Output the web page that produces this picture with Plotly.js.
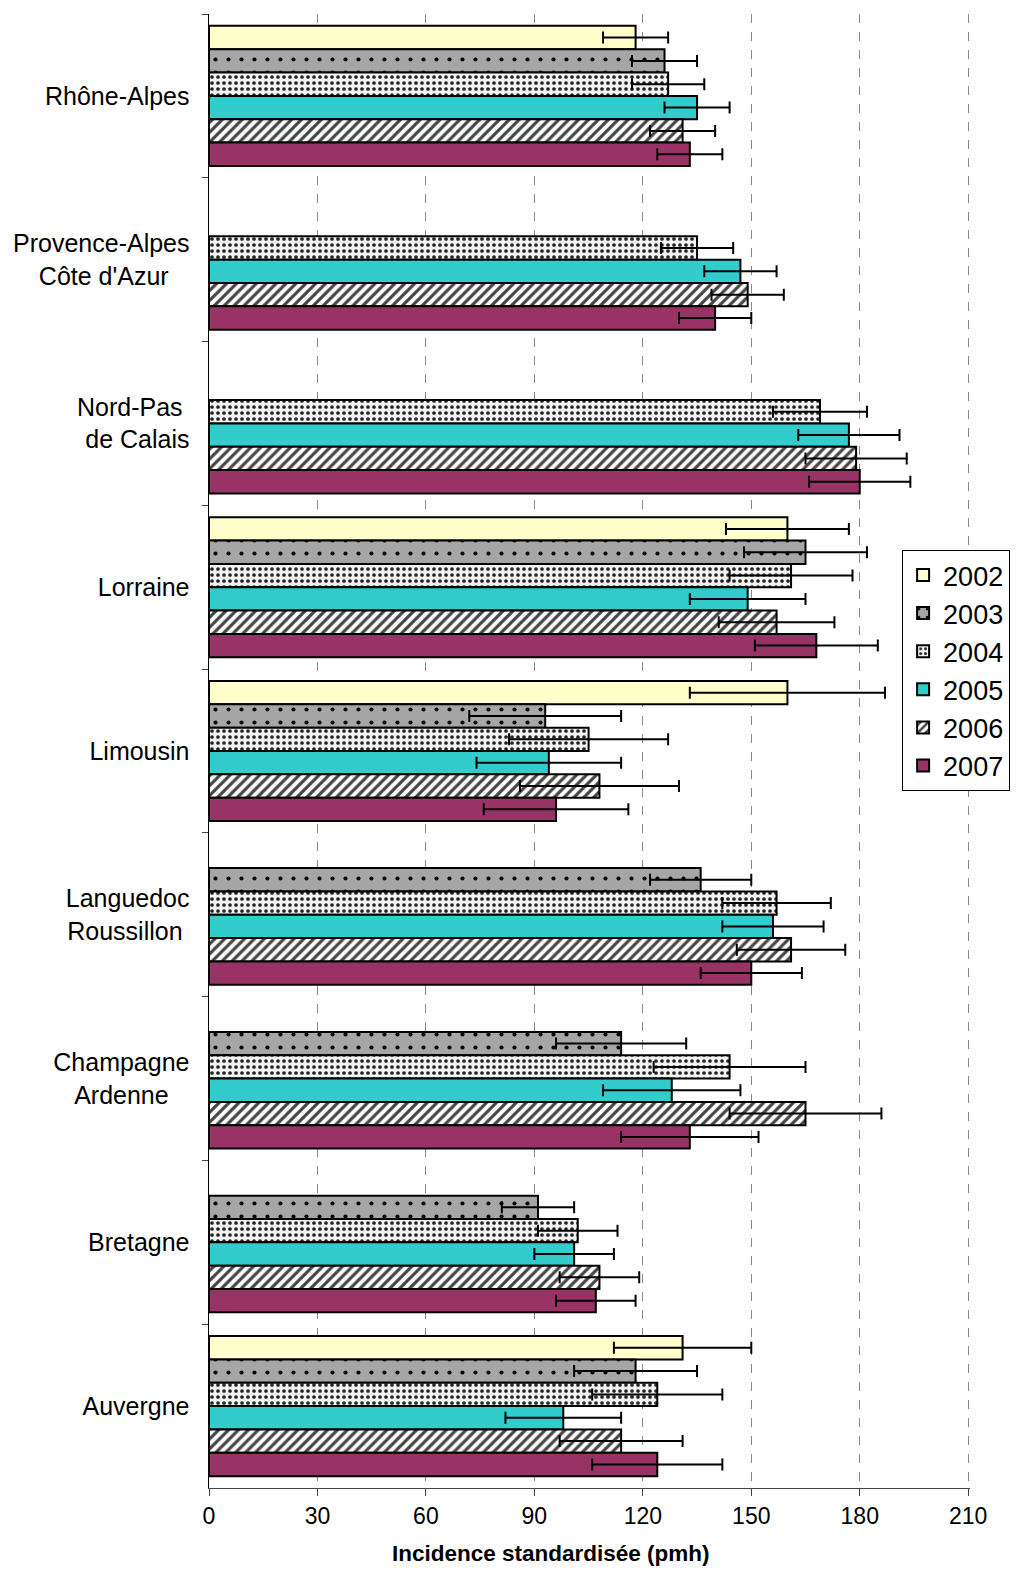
<!DOCTYPE html>
<html>
<head>
<meta charset="utf-8">
<script src="https://cdn.plot.ly/plotly-3.0.1.min.js"></script>
<style>html,body{margin:0;padding:0;background:#fff;}#chart{width:1016px;height:1576px;}</style>
</head>
<body>
<div id="chart"></div>
<script>
var regions = ["Rhône-Alpes", "Provence-Alpes<br>Côte d'Azur\u00A0\u00A0\u00A0", "Nord-Pas\u00A0<br>de Calais", "Lorraine", "Limousin",
  "Languedoc<br>Roussillon\u00A0", "Champagne<br>Ardenne\u00A0\u00A0\u00A0", "Bretagne", "Auvergne"];
var years = ["2002", "2003", "2004", "2005", "2006", "2007"];
var xTitle = "<b>Incidence standardisée (pmh)</b>";
var xTicks = [0, 30, 60, 90, 120, 150, 180, 210];

// values per year, in region order
var v2002 = [118, null, null, 160, 160, null, null, null, 131];
var v2003 = [126, null, null, 165, 93, 136, 114, 91, 118];
var v2004 = [127, 135, 169, 161, 105, 157, 144, 102, 124];
var v2005 = [135, 147, 177, 149, 94, 156, 128, 101, 98];
var v2006 = [131, 149, 179, 157, 108, 161, 165, 108, 114];
var v2007 = [133, 140, 180, 168, 96, 150, 133, 107, 124];

// confidence interval lows and highs
var lo2002 = [109, null, null, 143, 133, null, null, null, 112];
var hi2002 = [127, null, null, 177, 187, null, null, null, 150];
var lo2003 = [117, null, null, 148, 72, 122, 96, 81, 101];
var hi2003 = [135, null, null, 182, 114, 150, 132, 101, 135];
var lo2004 = [117, 125, 156, 144, 83, 142, 123, 91, 106];
var hi2004 = [137, 145, 182, 178, 127, 172, 165, 113, 142];
var lo2005 = [126, 137, 163, 133, 74, 142, 109, 90, 82];
var hi2005 = [144, 157, 191, 165, 114, 170, 147, 112, 114];
var lo2006 = [122, 139, 165, 141, 86, 146, 144, 97, 97];
var hi2006 = [140, 159, 193, 173, 130, 176, 186, 119, 131];
var lo2007 = [124, 130, 166, 151, 76, 136, 114, 96, 106];
var hi2007 = [142, 150, 194, 185, 116, 164, 152, 118, 142];

var values = [v2002, v2003, v2004, v2005, v2006, v2007];
var lows = [lo2002, lo2003, lo2004, lo2005, lo2006, lo2007];
var highs = [hi2002, hi2003, hi2004, hi2005, hi2006, hi2007];

var styles = [
  {color: '#FFFFCC', pattern: {shape: ''}},
  {color: '#A6A6A6', pattern: {shape: '.', bgcolor: '#A6A6A6', fgcolor: '#000', size: 13, solidity: 0.08}},
  {color: '#EEEEEE', pattern: {shape: '.', bgcolor: '#F2F2F2', fgcolor: '#222', size: 6, solidity: 0.3}},
  {color: '#33CCCC', pattern: {shape: ''}},
  {color: '#FFFFFF', pattern: {shape: '/', bgcolor: '#FFFFFF', fgcolor: '#444', size: 7, solidity: 0.45}},
  {color: '#993366', pattern: {shape: ''}}
];

var traces = years.map(function (y, i) {
  var plus = values[i].map(function (v, k) { return v == null ? null : highs[i][k] - v; });
  var minus = values[i].map(function (v, k) { return v == null ? null : v - lows[i][k]; });
  return {
    type: 'bar',
    orientation: 'h',
    name: y,
    x: values[i],
    y: regions,
    marker: {color: styles[i].color, pattern: styles[i].pattern, line: {color: '#000', width: 2}},
    error_x: {type: 'data', symmetric: false, array: plus, arrayminus: minus, color: '#000', thickness: 2, width: 6},
    hoverinfo: 'x+name'
  };
});

var layout = {
  width: 1016,
  height: 1576,
  margin: {l: 209, r: 46, t: 14, b: 88, autoexpand: false},
  paper_bgcolor: '#fff',
  plot_bgcolor: '#fff',
  font: {family: 'Liberation Sans, Arial, sans-serif', color: '#000'},
  barmode: 'group',
  bargap: 0.145,
  bargroupgap: 0,
  showlegend: true,
  legend: {
    x: 1.0527, y: 0.6364, xanchor: 'right', yanchor: 'top',
    bgcolor: '#fff', bordercolor: '#000', borderwidth: 1,
    font: {size: 27, color: '#000'},
    traceorder: 'normal', itemwidth: 30, tracegroupgap: 0
  },
  xaxis: {
    range: [0, 210.5],
    tickvals: xTicks,
    ticks: 'outside', ticklen: 7, tickcolor: '#444', tickwidth: 1,
    showline: true, linecolor: '#444', linewidth: 1,
    showgrid: true, gridcolor: '#888', griddash: 'dash', gridwidth: 1,
    zeroline: false,
    tickfont: {size: 23}
  },
  yaxis: {
    type: 'category',
    autorange: 'reversed',
    tickson: 'boundaries',
    ticks: 'outside', ticklen: 6, tickcolor: '#444', tickwidth: 1,
    showline: true, linecolor: '#000', linewidth: 1.5,
    showgrid: false, zeroline: false,
    tickfont: {size: 25},
    ticklabelstandoff: 13
  },
  annotations: [{
    text: xTitle, xref: 'paper', yref: 'paper', x: 0.4496, y: -0.0441,
    xanchor: 'center', yanchor: 'middle', showarrow: false,
    font: {size: 22.5, color: '#000'}
  }]
};

Plotly.newPlot('chart', traces, layout, {displayModeBar: false, staticPlot: true});
</script>
</body>
</html>
